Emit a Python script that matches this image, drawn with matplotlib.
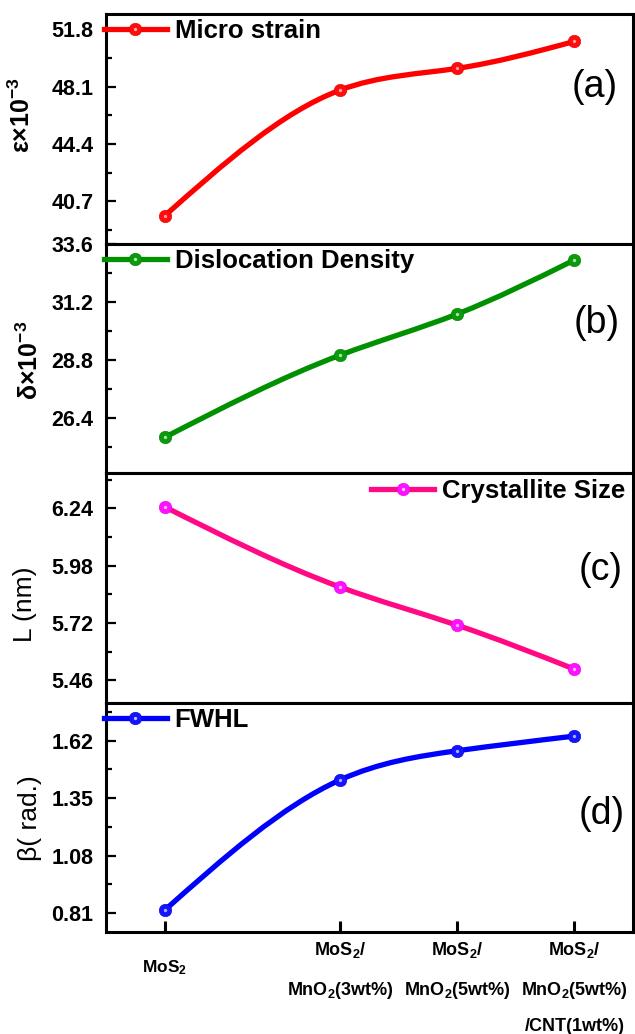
import numpy as np
import matplotlib
matplotlib.use("Agg")
import matplotlib.pyplot as plt
from matplotlib.path import Path
from matplotlib.patches import PathPatch
from matplotlib.lines import Line2D
from matplotlib.ticker import AutoMinorLocator

# ---- data -------------------------------------------------------------
samples = [
    "MoS$_2$",
    "MoS$_2$/\nMnO$_2$(3wt%)",
    "MoS$_2$/\nMnO$_2$(5wt%)",
    "MoS$_2$/\nMnO$_2$(5wt%)\n/CNT(1wt%)",
]
sample_pos = [0.0, 1.5, 2.5, 3.5]

micro_strain = [39.76, 47.89, 49.29, 51.03]          # x10^-3
dislocation_density = [25.59, 28.99, 30.69, 32.92]   # x10^-3
crystallite_size = [6.247, 5.883, 5.710, 5.511]      # nm
fwhl = [0.822, 1.436, 1.573, 1.642]                  # rad.

strain_ticks = [40.7, 44.4, 48.1, 51.8]
density_ticks = [26.4, 28.8, 31.2, 33.6]
size_ticks = [5.46, 5.72, 5.98, 6.24]
fwhl_ticks = [0.81, 1.08, 1.35, 1.62]

# ---- style ------------------------------------------------------------
plt.rcParams["font.family"] = ["Liberation Sans", "DejaVu Sans"]
plt.rcParams["font.weight"] = "bold"
plt.rcParams["mathtext.default"] = "regular"


def spline_path(x, y):
    """Natural cubic spline through the points, as Bezier segments."""
    x = np.asarray(x, float)
    y = np.asarray(y, float)
    n = len(x)
    h = np.diff(x)
    A = np.zeros((n, n))
    b = np.zeros(n)
    A[0, 0] = A[-1, -1] = 1.0
    for i in range(1, n - 1):
        A[i, i - 1] = h[i - 1]
        A[i, i] = 2 * (h[i - 1] + h[i])
        A[i, i + 1] = h[i]
        b[i] = 6 * ((y[i + 1] - y[i]) / h[i] - (y[i] - y[i - 1]) / h[i - 1])
    M = np.linalg.solve(A, b)
    verts = [(x[0], y[0])]
    codes = [Path.MOVETO]
    for i in range(n - 1):
        s = (y[i + 1] - y[i]) / h[i]
        m0 = s - h[i] * (2 * M[i] + M[i + 1]) / 6
        m1 = s + h[i] * (M[i] + 2 * M[i + 1]) / 6
        verts += [
            (x[i] + h[i] / 3, y[i] + m0 * h[i] / 3),
            (x[i + 1] - h[i] / 3, y[i + 1] - m1 * h[i] / 3),
            (x[i + 1], y[i + 1]),
        ]
        codes += [Path.CURVE4] * 3
    return Path(verts, codes)


panels = [
    dict(values=micro_strain, ticks=strain_ticks, ylim=(37.98, 52.8),
         line="#ff0000", face="#ff0d0d", edge="#e60000", hl="#ffb0b0",
         name="Micro strain", ylabel="ε×10$^{-3}$", ylabel_weight="bold",
         ylabel_size=18, ylabel_pos=(-0.160, 0.56),
         leg_loc="center left", leg_anchor=(-0.004, 0.925),
         tag="(a)", tag_pos=(0.928, 0.683)),
    dict(values=dislocation_density, ticks=density_ticks, ylim=(24.12, 33.6),
         line="#009000", face="#0c990c", edge="#008000", hl="#b8f0b8",
         name="Dislocation Density", ylabel="δ×10$^{-3}$", ylabel_weight="bold",
         ylabel_size=18, ylabel_pos=(-0.145, 0.49),
         leg_loc="center left", leg_anchor=(-0.004, 0.923),
         tag="(b)", tag_pos=(0.932, 0.654)),
    dict(values=crystallite_size, ticks=size_ticks, ylim=(5.36, 6.40),
         line="#ff0a84", face="#ff10ff", edge="#e800e8", hl="#ffd0ff",
         name="Crystallite Size", ylabel="L (nm)", ylabel_weight="normal",
         ylabel_size=19, ylabel_pos=(-0.154, 0.428),
         leg_loc="center right", leg_anchor=(0.985, 0.920),
         tag="(c)", tag_pos=(0.938, 0.576)),
    dict(values=fwhl, ticks=fwhl_ticks, ylim=(0.72, 1.80),
         line="#0000ff", face="#1414ff", edge="#0000dd", hl="#c0c0ff",
         name="FWHL", ylabel="β( rad.)", ylabel_weight="normal",
         ylabel_size=19, ylabel_pos=(-0.145, 0.496),
         leg_loc="center left", leg_anchor=(-0.004, 0.925),
         tag="(d)", tag_pos=(0.940, 0.513)),
]

fig = plt.figure(figsize=(6.35, 10.34), dpi=100)
gs = fig.add_gridspec(4, 1, left=106 / 635, right=633 / 635,
                      top=1 - 14 / 1034, bottom=1 - 932 / 1034, hspace=0)
axes = []
for i in range(4):
    ax = fig.add_subplot(gs[i], sharex=axes[0] if axes else None)
    axes.append(ax)

for ax, p in zip(axes, panels):
    # smooth connecting curve
    ax.add_patch(PathPatch(spline_path(sample_pos, p["values"]), fill=False,
                           edgecolor=p["line"], lw=3.8, capstyle="round",
                           joinstyle="round", zorder=3))
    # ball markers with a small highlight
    ax.plot(sample_pos, p["values"], linestyle="none", marker="o", ms=9,
            mfc=p["face"], mec=p["edge"], mew=0.4, zorder=4)
    ax.plot(sample_pos, p["values"], linestyle="none", marker="o", ms=2.4,
            mfc=p["hl"], mec="none", alpha=0.9, zorder=5)

    ax.set_ylim(*p["ylim"])
    ax.set_yticks(p["ticks"])
    ax.yaxis.set_minor_locator(AutoMinorLocator(2))
    ax.tick_params(axis="y", which="major", direction="in", length=7,
                   width=1.6, labelsize=15.5, pad=9)
    ax.tick_params(axis="y", which="minor", direction="in", length=4,
                   width=1.6)
    ax.tick_params(axis="y", right=False)
    for s in ax.spines.values():
        s.set_linewidth(2.2)

    ax.set_ylabel(p["ylabel"], fontsize=p["ylabel_size"],
                  fontweight=p["ylabel_weight"], va="center")
    ax.yaxis.set_label_coords(*p["ylabel_pos"])

    handle = (Line2D([], [], color=p["line"], lw=3.8, marker="o", ms=9,
                     mfc=p["face"], mec=p["edge"], mew=0.4),
              Line2D([], [], linestyle="none", marker="o", ms=2.4,
                     mfc=p["hl"], mec="none"))
    ax.legend([handle], [p["name"]], loc=p["leg_loc"],
              bbox_to_anchor=p["leg_anchor"], frameon=False, borderpad=0,
              borderaxespad=0, handlelength=2.45, handletextpad=0.3,
              prop=dict(size=18.5, weight="bold"))

    ax.text(*p["tag_pos"], p["tag"], transform=ax.transAxes, ha="center",
            va="center", fontsize=27, fontweight="normal")

# shared categorical x axis
axes[0].set_xlim(-0.5, 4.0)
for ax in axes[:-1]:
    ax.tick_params(axis="x", which="both", bottom=False, top=False,
                   labelbottom=False)
bottom = axes[-1]
bottom.set_xticks(sample_pos)
bottom.set_xticklabels(samples)
bottom.tick_params(axis="x", which="major", direction="in", length=8,
                   width=2.2, labelsize=13, pad=6, top=False)
bottom.tick_params(axis="x", which="minor", bottom=False, top=False)
for lbl in bottom.get_xticklabels():
    lbl.set_linespacing(2.3)
bottom.xaxis.get_major_ticks()[0].set_pad(19)
bottom.xaxis.get_major_ticks()[0].label1.set_fontsize(12.5)

fig.savefig("out.png", dpi=100)
